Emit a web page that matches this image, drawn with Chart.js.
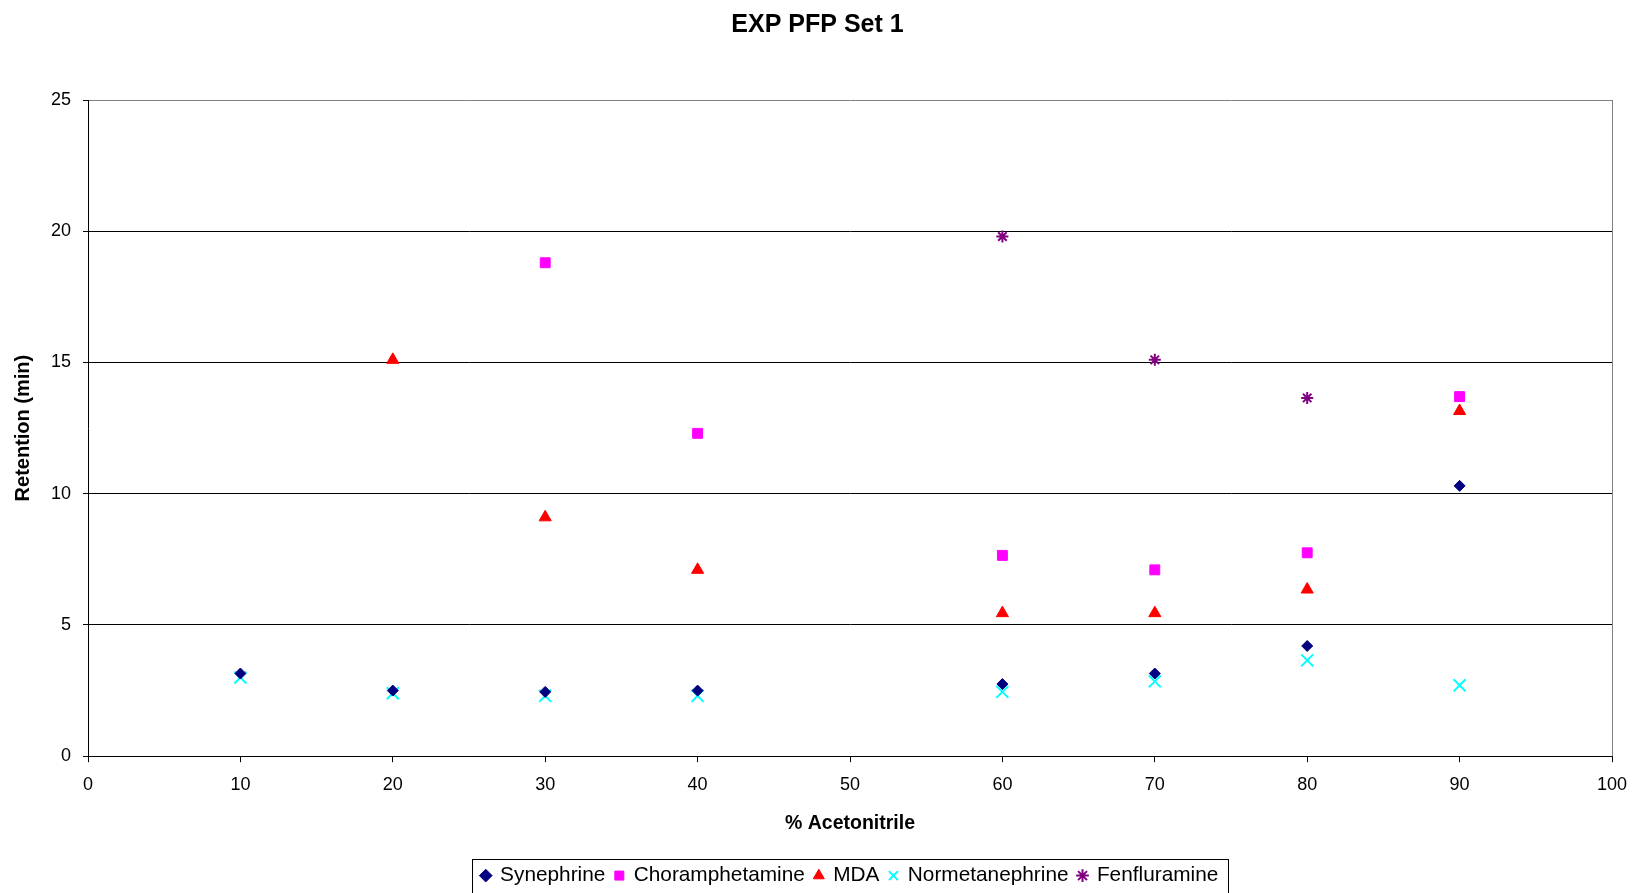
<!DOCTYPE html>
<html>
<head>
<meta charset="utf-8">
<title>EXP PFP Set 1</title>
<script src="https://cdn.jsdelivr.net/npm/chart.js@4/dist/chart.umd.min.js"></script>
<style>
  html, body { margin: 0; padding: 0; background: #fff; }
  #wrap { width: 1635px; height: 893px; }
</style>
</head>
<body>
<div id="wrap"><canvas id="chart" width="1635" height="893"></canvas></div>
<script>
// % acetonitrile steps (no 50 % run)
const acetonitrile = [10, 20, 30, 40, 60, 70, 80, 90];

// retention (min) per compound, null = no peak
const synephrine      = [3.15, 2.5, 2.45, 2.5, 2.75, 3.15, 4.2, 10.3];
const choramphetamine = [null, null, 18.8, 12.3, 7.65, 7.1, 7.75, 13.7];
const mda             = [null, 15.1, 9.1, 7.1, 5.45, 5.45, 6.35, 13.15];
const normetanephrine = [3.0, 2.4, 2.3, 2.3, 2.45, 2.85, 3.65, 2.7];
const fenfluramine    = [null, null, null, null, 19.8, 15.1, 13.65, null];

const xTicks = [0, 10, 20, 30, 40, 50, 60, 70, 80, 90, 100];
const yTicks = [0, 5, 10, 15, 20, 25];

const FONT = "'Liberation Sans', Arial, Helvetica, sans-serif";

function toPoints(ys) {
  return acetonitrile
    .map((x, i) => ({ x: x, y: ys[i] }))
    .filter(p => p.y != null);
}

function series(label, ys, style, color, radius) {
  return {
    label: label,
    data: toPoints(ys),
    showLine: false,
    pointStyle: style,
    pointRadius: radius,
    pointHoverRadius: radius,
    backgroundColor: color,
    borderColor: color,
    pointBorderWidth: (style === 'crossRot' || style === 'star') ? 2 : 1,
  };
}

// right-hand plot border + box around the legend
const frame = {
  id: 'frame',
  afterDraw(chart) {
    const ctx = chart.ctx;
    const a = chart.chartArea;
    ctx.save();
    ctx.strokeStyle = '#808080';
    ctx.lineWidth = 1;
    ctx.beginPath();
    ctx.moveTo(Math.round(a.right) + 0.5, a.top);
    ctx.lineTo(Math.round(a.right) + 0.5, a.bottom);
    ctx.stroke();

    const boxes = chart.legend.legendHitBoxes;
    if (boxes && boxes.length) {
      const l = Math.min(...boxes.map(b => b.left)) - 10;
      const r = Math.max(...boxes.map(b => b.left + b.width)) + 9;
      ctx.strokeStyle = '#000';
      ctx.strokeRect(Math.round(l) + 0.5, 859.5, Math.round(r - l), 40);
    }
    ctx.restore();
  }
};

new Chart(document.getElementById('chart'), {
  type: 'scatter',
  data: {
    datasets: [
      series('Synephrine', synephrine, 'rectRot', '#000080', 5.5),
      series('Choramphetamine', choramphetamine, 'rect', '#ff00ff', 7),
      series('MDA', mda, 'triangle', '#ff0000', 7),
      series('Normetanephrine', normetanephrine, 'crossRot', '#00ffff', 8.5),
      series('Fenfluramine', fenfluramine, 'star', '#800080', 6),
    ]
  },
  options: {
    responsive: false,
    animation: false,
    layout: { padding: { left: 0, right: 0, top: 0, bottom: -3 } },
    plugins: {
      title: {
        display: true,
        text: 'EXP PFP Set 1',
        color: '#000',
        font: { family: FONT, size: 25, weight: 'bold' },
        padding: { top: 10, bottom: 60 }
      },
      legend: {
        position: 'bottom',
        fullSize: false,
        labels: {
          usePointStyle: true,
          boxWidth: 8,
          boxHeight: 9,
          padding: 10,
          color: '#000',
          font: { family: FONT, size: 20.8 }
        }
      },
      tooltip: { enabled: false }
    },
    scales: {
      x: {
        type: 'linear',
        min: 0,
        max: 100,
        afterBuildTicks: s => { s.ticks = xTicks.map(v => ({ value: v })); },
        afterFit: s => { s.height = 99; },
        grid: { drawOnChartArea: false, drawTicks: true, tickLength: 6, color: '#000' },
        border: { color: '#000', width: 1 },
        // tall line box pushes the labels down without widening the side padding
        ticks: { color: '#000', padding: 0, maxRotation: 0, font: { family: FONT, size: 18, lineHeight: 2.53 } },
        title: {
          display: true,
          text: '% Acetonitrile',
          color: '#000',
          font: { family: FONT, size: 19.5, weight: 'bold' },
          padding: { top: 0, bottom: 20 }
        }
      },
      y: {
        type: 'linear',
        min: 0,
        max: 25,
        afterBuildTicks: s => { s.ticks = yTicks.map(v => ({ value: v })); },
        afterFit: s => { s.width = 88; },
        grid: {
          color: c => (c.tick && c.tick.value === 25) ? '#808080' : '#000',
          tickColor: '#000',
          tickLength: 5,
          lineWidth: 1
        },
        border: { color: '#000', width: 1 },
        ticks: { color: '#000', padding: 12, font: { family: FONT, size: 18 } },
        title: {
          display: true,
          text: 'Retention (min)',
          color: '#000',
          font: { family: FONT, size: 20, weight: 'bold' },
          padding: { top: 11, bottom: 0 }
        }
      },
      // empty right-hand strip so the title stays centred on the page
      yPad: {
        type: 'linear',
        position: 'right',
        min: 0,
        max: 25,
        afterFit: s => { s.width = 23; },
        grid: { display: false },
        border: { display: false },
        ticks: { display: false }
      }
    }
  },
  plugins: [frame]
});
</script>
</body>
</html>
